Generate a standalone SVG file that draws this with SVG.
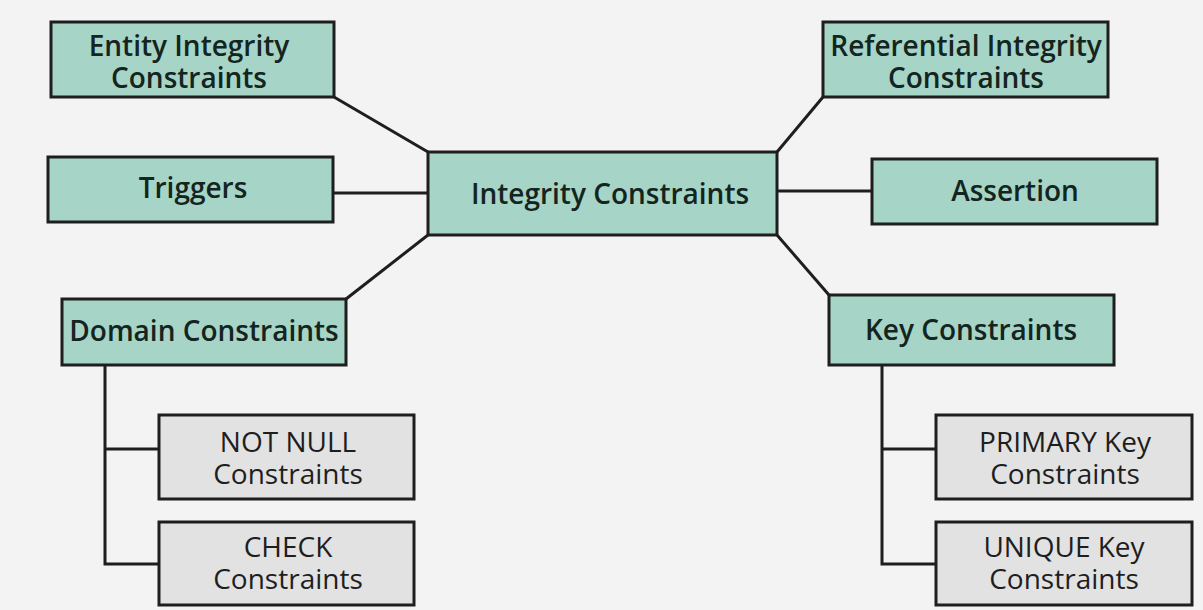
<svg xmlns="http://www.w3.org/2000/svg" width="1203" height="610" viewBox="0 0 1203 610">
<style>
.t{fill:#a6d4c6;stroke:#1e1e1e;stroke-width:3}
.g{fill:#e2e2e2;stroke:#1e1e1e;stroke-width:3}
.lb{font-family:"Open Sans","Noto Sans",sans-serif;font-size:28px;font-weight:600;fill:#14241e;text-anchor:middle}
.lg{font-family:"Open Sans","Noto Sans",sans-serif;font-size:28px;font-weight:400;fill:#1e1e1e;text-anchor:middle}
.c{stroke:#1e1e1e;stroke-width:3;fill:none}
</style>
<rect width="1203" height="610" fill="#f3f3f3"/>
<g id="connectors">
<line class="c" x1="334" y1="97" x2="428" y2="152"/>
<line class="c" x1="333" y1="193" x2="428" y2="193"/>
<line class="c" x1="346" y1="299" x2="428" y2="235"/>
<line class="c" x1="823" y1="97" x2="777" y2="152"/>
<line class="c" x1="777" y1="191" x2="872" y2="191"/>
<line class="c" x1="777" y1="235" x2="829" y2="295"/>
<polyline class="c" points="105,365 105,564 159,564"/>
<line class="c" x1="105" y1="449" x2="159" y2="449"/>
<polyline class="c" points="882,365 882,564 936,564"/>
<line class="c" x1="882" y1="449" x2="936" y2="449"/>
</g>
<g id="integrity">
<rect class="t" x="428" y="152" width="349" height="83"/>
<text class="lb" x="610" y="204">Integrity Constraints</text>
</g>
<g id="entity">
<rect class="t" x="51" y="22" width="283" height="75"/>
<text class="lb" x="189" y="56">Entity Integrity<tspan x="189" dy="32">Constraints</tspan></text>
</g>
<g id="triggers">
<rect class="t" x="48" y="157" width="285" height="65"/>
<text class="lb" x="193" y="198">Triggers</text>
</g>
<g id="domain">
<rect class="t" x="62" y="299" width="284" height="66"/>
<text class="lb" x="204" y="341">Domain Constraints</text>
</g>
<g id="referential">
<rect class="t" x="823" y="22" width="285" height="75"/>
<text class="lb" x="966" y="56">Referential Integrity<tspan x="966" dy="32">Constraints</tspan></text>
</g>
<g id="assertion">
<rect class="t" x="872" y="159" width="285" height="65"/>
<text class="lb" x="1015" y="201">Assertion</text>
</g>
<g id="key">
<rect class="t" x="829" y="295" width="285" height="70"/>
<text class="lb" x="971" y="340">Key Constraints</text>
</g>
<g id="notnull">
<rect class="g" x="159" y="415" width="255" height="84"/>
<text class="lg" x="288" y="452">NOT NULL<tspan x="288" dy="32">Constraints</tspan></text>
</g>
<g id="check">
<rect class="g" x="159" y="522" width="255" height="83"/>
<text class="lg" x="288" y="557">CHECK<tspan x="288" dy="32">Constraints</tspan></text>
</g>
<g id="primary">
<rect class="g" x="936" y="415" width="256" height="84"/>
<text class="lg" x="1065" y="452">PRIMARY Key<tspan x="1065" dy="32">Constraints</tspan></text>
</g>
<g id="unique">
<rect class="g" x="936" y="522" width="256" height="83"/>
<text class="lg" x="1064" y="557">UNIQUE Key<tspan x="1064" dy="32">Constraints</tspan></text>
</g>
</svg>
